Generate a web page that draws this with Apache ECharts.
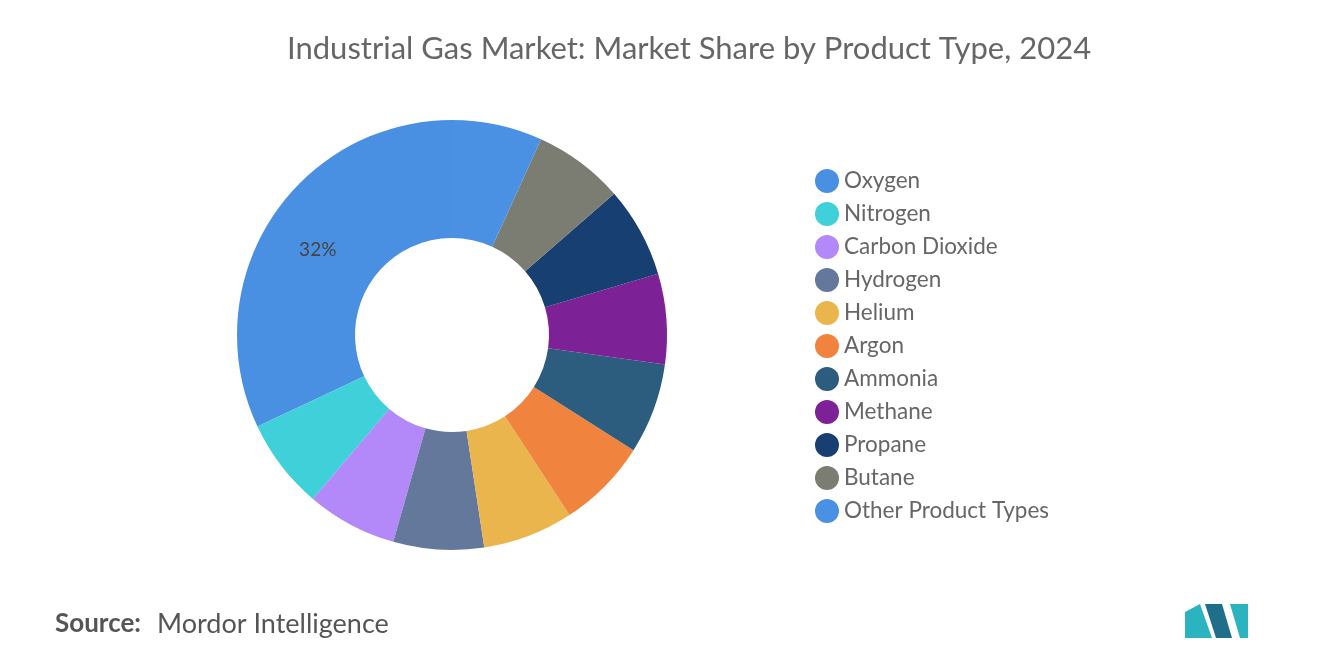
<!DOCTYPE html>
<html>
<head>
<meta charset="utf-8">
<script src="https://cdn.jsdelivr.net/npm/echarts@6/dist/echarts.min.js"></script>
<style>html,body{margin:0;padding:0;background:#fff}#main{width:1320px;height:665px}</style>
</head>
<body>
<div id="main"></div>
<script>
// 产品类型和份额
var categories = ['Oxygen', 'Nitrogen', 'Carbon Dioxide', 'Hydrogen', 'Helium', 'Argon', 'Ammonia', 'Methane', 'Propane', 'Butane', 'Other Product Types'];
var shares = [32, 6.8, 6.8, 6.8, 6.8, 6.8, 6.8, 6.8, 6.8, 6.8, 6.8];
var colors = ['#4a90e2', '#3fd0d9', '#b388f9', '#63789b', '#eab54d', '#f0843f', '#2c5c7e', '#7d2196', '#173f72', '#7b7d73', '#4b91e3'];

var myChart = echarts.init(document.getElementById('main'));
var data = categories.map(function (c, i) {
    var d = { name: c, value: shares[i], itemStyle: { color: colors[i] } };
    if (i == 0) {
        d.label = { show: true, position: 'inside', formatter: '{c}%', color: '#444', fontSize: 19, fontFamily: 'Lato' };
    }
    return d;
});
var option = {
    title: {
        text: 'Industrial Gas Market: Market Share by Product Type, 2024',
        left: 282, top: 28,
        textStyle: { color: '#666', fontSize: 31, fontWeight: 'normal', fontFamily: 'Lato' }
    },
    legend: {
        orient: 'vertical', left: 810, top: 164,
        icon: 'circle', itemWidth: 24, itemHeight: 24, itemGap: 9,
        textStyle: { color: '#666', fontSize: 22.5, fontFamily: 'Lato' },
        data: categories
    },
    series: [{
        type: 'pie', center: [452, 335], radius: [97, 215],
        clockwise: false, startAngle: 90,
        label: { show: false }, labelLine: { show: false },
        silent: true,
        data: data
    }],
    graphic: [
        { type: 'text', left: 55, top: 611, style: { text: 'Source:', fill: '#555', font: 'bold 26px Lato' } },
        { type: 'text', left: 157, top: 611, style: { text: 'Mordor Intelligence', fill: '#555', font: '27px Lato' } },
        { type: 'polygon', shape: { points: [[1185, 638], [1185, 612], [1200, 604], [1212, 638]] }, style: { fill: '#2bb3c0' } },
        { type: 'polygon', shape: { points: [[1205, 604], [1222, 604], [1232, 638], [1216, 638]] }, style: { fill: '#1f6f8b' } },
        { type: 'polygon', shape: { points: [[1230, 604], [1248, 604], [1248, 638], [1240, 638]] }, style: { fill: '#2bb3c0' } }
    ]
};
myChart.setOption(option);
</script>
</body>
</html>
